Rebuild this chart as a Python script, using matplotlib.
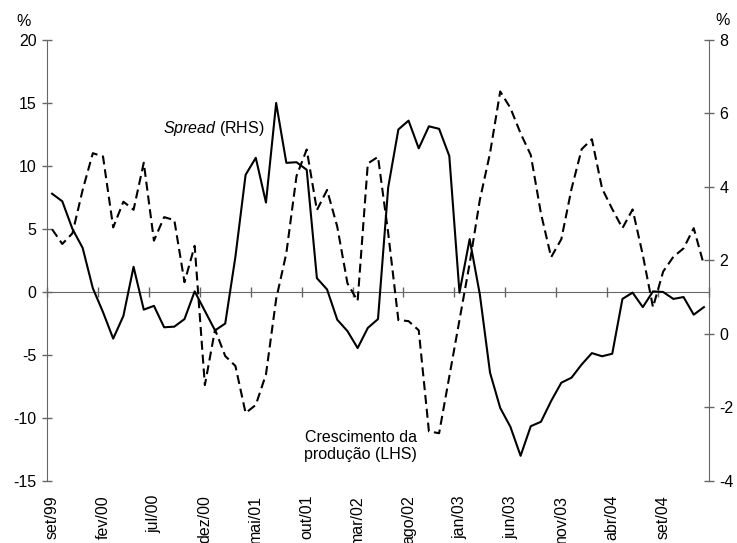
import matplotlib.pyplot as plt
import numpy as np

plt.rcParams['font.family'] = ['Liberation Sans', 'DejaVu Sans']
plt.rcParams['mathtext.fontset'] = 'custom'
plt.rcParams['mathtext.rm'] = 'Liberation Sans'
plt.rcParams['mathtext.it'] = 'Liberation Sans:italic'
plt.rcParams['lines.scale_dashes'] = False
plt.rcParams['axes.unicode_minus'] = False

# meses (set/99 a jan/05)
meses_pt = ['jan', 'fev', 'mar', 'abr', 'mai', 'jun', 'jul', 'ago', 'set', 'out', 'nov', 'dez']
periodos = []
for k in range(65):
    m = (8 + k) % 12
    ano = 1999 + (8 + k) // 12
    periodos.append(meses_pt[m] + '/' + str(ano)[-2:])

# Crescimento da produção (LHS, %)
producao = [7.8, 7.2, 5.0, 3.5, 0.3, -1.6, -3.7, -1.9, 2.0, -1.4,
            -1.1, -2.8, -2.75, -2.15, 0.05, -1.5, -3.05, -2.5, 2.8, 9.3,
            10.65, 7.1, 15.0, 10.25, 10.3, 9.7, 1.1, 0.2, -2.2, -3.1,
            -4.45, -2.85, -2.15, 8.3, 12.9, 13.6, 11.4, 13.15, 12.95, 10.8,
            -0.05, 4.2, -0.2, -6.4, -9.2, -10.7, -13.0, -10.65, -10.3, -8.65,
            -7.2, -6.8, -5.75, -4.85, -5.1, -4.9, -0.55, -0.05, -1.2, 0.05,
            0.0, -0.55, -0.4, -1.8, -1.2]

# Spread (RHS, %)
spread = [2.85, 2.45, 2.74, 3.92, 4.92, 4.83, 2.9, 3.6, 3.38, 4.66,
          2.54, 3.18, 3.1, 1.41, 2.4, -1.39, 0.12, -0.6, -0.87, -2.15,
          -1.93, -1.1, 0.95, 2.2, 4.3, 5.02, 3.37, 3.92, 2.92, 1.38,
          0.9, 4.64, 4.82, 2.75, 0.38, 0.35, 0.1, -2.65, -2.7, -1.16,
          0.38, 1.92, 3.65, 4.92, 6.6, 6.15, 5.46, 4.87, 3.28, 2.09,
          2.58, 3.95, 5.03, 5.3, 3.96, 3.4, 2.88, 3.39, 2.15, 0.73,
          1.7, 2.1, 2.33, 2.88, 1.88]

x = np.arange(len(periodos))
cinza = '#666666'
fs = 11.5

fig = plt.figure(figsize=(7.37, 5.43), dpi=100)
ax = fig.add_axes([47 / 737, 1 - 481 / 543, 662 / 737, 441 / 543])
ax2 = ax.twinx()

ax.plot(x, producao, color='black', lw=1.5, zorder=3)
ax2.plot(x, spread, color='black', lw=1.5, dashes=(6.5, 3.5))

ax.set_xlim(-0.5, len(periodos) - 0.5)
ax.set_ylim(-15, 20)
ax.set_yticks(np.arange(-15, 21, 5))
ax2.set_ylim(-4, 8)
ax2.set_yticks(np.arange(-4, 9, 2))

# rótulos do eixo x no fundo
ax.set_xticks(x[::5])
ax.set_xticklabels(periodos[::5], rotation=90, va='top', ha='center')
ax.tick_params(axis='x', length=0, pad=10, labelsize=fs, colors='black')

# eixo horizontal no zero, com marcas entre categorias
zero = ax.secondary_xaxis(15 / 35)
zero.set_xticks(np.arange(-0.5, len(periodos), 5))
zero.tick_params(axis='x', direction='inout', length=7, width=1, color=cinza,
                 labelbottom=False, labeltop=False)
for sp in zero.spines.values():
    sp.set_color(cinza)

for s in ['top', 'right', 'bottom']:
    ax.spines[s].set_visible(False)
for s in ['top', 'left', 'bottom']:
    ax2.spines[s].set_visible(False)
ax.spines['left'].set_color(cinza)
ax2.spines['right'].set_color(cinza)

ax.tick_params(axis='y', direction='inout', length=7, width=1, color=cinza,
               labelsize=fs, labelcolor='black', pad=4)
ax2.tick_params(axis='y', direction='inout', length=7, width=1, color=cinza,
                labelsize=fs, labelcolor='black', pad=4)

ax.text(-0.035, 1.041, '%', transform=ax.transAxes, ha='center', va='center', fontsize=fs)
ax.text(1.021, 1.045, '%', transform=ax.transAxes, ha='center', va='center', fontsize=fs)

ax.text(20.9, 12.95, r'$\it{Spread}$ (RHS)', ha='right', va='center', fontsize=fs)
ax.text(30.3, -12.2, 'Crescimento da\nprodução (LHS)', ha='center', va='center',
        multialignment='center', fontsize=fs, linespacing=1.15)

fig.savefig('out.png', dpi=100)
